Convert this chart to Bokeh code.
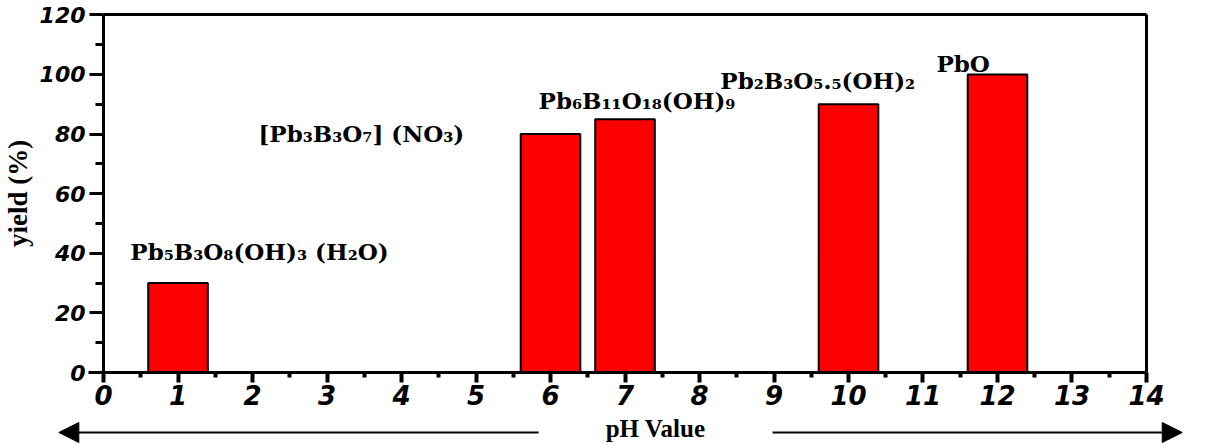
from bokeh.plotting import figure
from bokeh.models import (ColumnDataSource, Range1d, FixedTicker, Arrow, NormalHead,
                          Label, LinearAxis)
from bokeh.core.properties import value
from bokeh.embed import file_html
from bokeh.resources import INLINE

# ---- data ----
ph = [1, 6, 7, 10, 12]
yield_pct = [30, 80, 85, 90, 100]
compounds = ["Pb₅B₃O₈(OH)₃ (H₂O)", "[Pb₃B₃O₇] (NO₃)", "Pb₆B₁₁O₁₈(OH)₉",
             "Pb₂B₃O₅.₅(OH)₂", "PbO"]
x_ticks = list(range(0, 15))
y_ticks = [0, 20, 40, 60, 80, 100, 120]

# label anchor positions (layout only)
label_x = [0.36, 2.08, 5.84, 8.28, 11.18]
label_y = [40.6, 80.2, 91.2, 98.0, 103.7]

X0, X1 = 0, 14       # axis extent (pH)
Y0, Y1 = 0, 120      # axis extent (yield)

W, H = 1200, 444
# the frame covers the whole canvas; axes are pinned inside it
p = figure(width=W, height=H, x_range=Range1d(-1.383, 14.725),
           y_range=Range1d(-24.16, 124.83),
           output_backend="svg", toolbar_location=None,
           x_axis_location=None, y_axis_location=None,
           min_border_left=0, min_border_right=0, min_border_top=0, min_border_bottom=0)
p.grid.visible = False
p.background_fill_color = "white"
p.border_fill_color = "white"
p.outline_line_color = None

bars = ColumnDataSource(dict(x=ph, top=yield_pct))
p.vbar(x="x", top="top", width=0.8, bottom=0, source=bars,
       fill_color="#ff0000", line_color="black", line_width=2)

labels = ColumnDataSource(dict(x=label_x, y=label_y, t=compounds))
p.text(x="x", y="y", text="t", source=labels, text_font=value("DejaVu Serif"),
       text_font_style="bold", text_font_size="23px", text_baseline="middle",
       text_align="left", text_color="black")

# bottom x axis pinned at yield = 0
xa = LinearAxis(fixed_location=Y0, bounds=(X0 - 0.2, X1))
xa.ticker = FixedTicker(ticks=x_ticks, minor_ticks=[t + 0.5 for t in x_ticks[:-1]])
xa.axis_line_width = 3
xa.major_tick_line_width = 4
xa.minor_tick_line_width = 4
xa.major_tick_in = 0
xa.major_tick_out = 10
xa.minor_tick_in = 0
xa.minor_tick_out = 5
xa.major_label_text_font = "DejaVu Sans"
xa.major_label_text_font_style = "bold italic"
xa.major_label_text_font_size = "26px"
xa.major_label_text_color = "black"
xa.major_label_standoff = 2
p.add_layout(xa, "below")

# left y axis pinned at pH = 0
ya = LinearAxis(fixed_location=X0, bounds=(Y0, Y1))
ya.ticker = FixedTicker(ticks=y_ticks, minor_ticks=list(range(10, 120, 20)))
ya.axis_line_width = 3
ya.major_tick_line_width = 3
ya.minor_tick_line_width = 3
ya.major_tick_in = 0
ya.major_tick_out = 14
ya.minor_tick_in = 0
ya.minor_tick_out = 8
ya.major_label_text_font = "DejaVu Sans"
ya.major_label_text_font_style = "bold italic"
ya.major_label_text_font_size = "22px"
ya.major_label_text_color = "black"
ya.major_label_standoff = 4
ya.axis_label = "yield (%)"
ya.axis_label_text_font = "Liberation Serif"
ya.axis_label_text_font_style = "bold"
ya.axis_label_text_font_size = "27px"
ya.axis_label_text_color = "black"
ya.axis_label_standoff = 4
p.add_layout(ya, "left")

# top and right frame lines as bare axes
ta = LinearAxis(fixed_location=Y1, bounds=(X0, X1), ticker=FixedTicker(ticks=[]),
                axis_line_width=3, major_tick_line_color=None, minor_tick_line_color=None,
                major_label_text_font_size="0px")
p.add_layout(ta, "above")
ra = LinearAxis(fixed_location=X1, bounds=(Y0, Y1), ticker=FixedTicker(ticks=[]),
                axis_line_width=3, major_tick_line_color=None, minor_tick_line_color=None,
                major_label_text_font_size="0px")
p.add_layout(ra, "right")

# pH arrow band below the axis
arrow_y = -20.13
p.add_layout(Arrow(end=NormalHead(size=20, fill_color="black", line_color="black"),
                   x_start=5.84, y_start=arrow_y, x_end=-0.60, y_end=arrow_y,
                   line_width=2, line_color="black"))
p.add_layout(Arrow(end=NormalHead(size=20, fill_color="black", line_color="black"),
                   x_start=8.98, y_start=arrow_y, x_end=14.48, y_end=arrow_y,
                   line_width=2, line_color="black"))
p.add_layout(Label(x=7.41, y=-18.79, text="pH Value", text_align="center",
                   text_baseline="middle", text_font="Liberation Serif",
                   text_font_style="bold", text_font_size="25px", text_color="black"))

open("out.html", "w").write(file_html(p, INLINE))
